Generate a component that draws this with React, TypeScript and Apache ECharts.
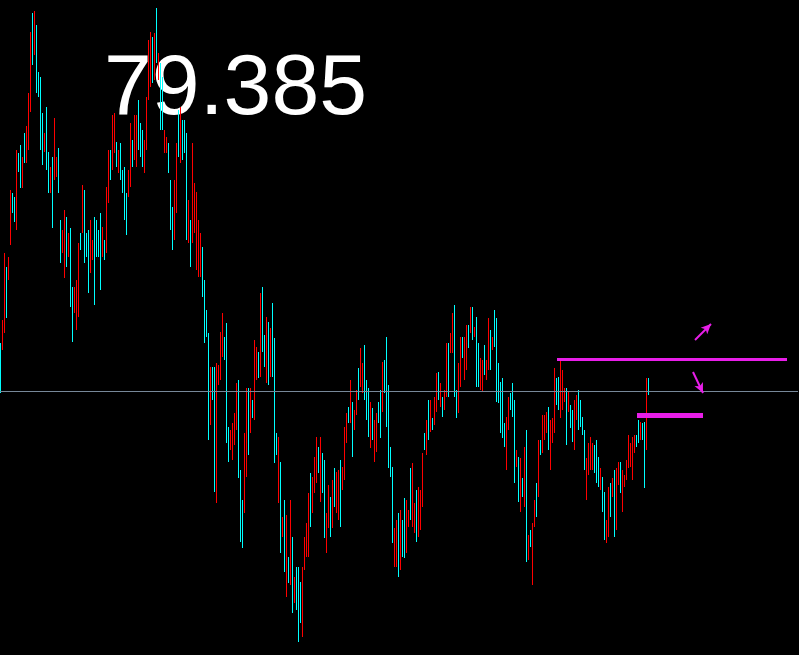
import React, { useEffect, useRef } from "react";
import * as echarts from "echarts";

// Bars (oldest -> newest), prices
const highs = [
  79.87, 80.10, 80.77, 80.63, 80.73, 81.40, 81.37, 81.33, 81.80, 81.77,
  81.85, 81.73, 81.97, 82.04, 82.37, 82.98, 83.17, 83.19, 83.05, 82.58,
  82.53, 82.17, 81.97, 82.23, 81.78, 81.63, 81.73, 82.12, 81.73, 81.82,
  81.10, 81.00, 81.20, 81.13, 80.97, 81.02, 80.43, 80.43, 80.50, 80.87,
  80.97, 81.45, 81.40, 80.97, 81.00, 81.10, 80.90, 81.13, 81.10, 81.00,
  81.17, 81.03, 80.90, 81.43, 81.80, 81.80, 82.15, 82.17, 81.88, 81.80,
  81.87, 81.60, 81.63, 81.37, 81.60, 82.07, 81.90, 82.15, 82.15, 82.30,
  82.07, 82.00, 81.90, 82.33, 82.90, 82.98, 82.93, 82.97, 83.22, 82.77,
  82.67, 82.53, 82.00, 81.93, 81.87, 81.50, 81.23, 81.50, 81.87, 82.20,
  82.23, 82.10, 82.10, 81.97, 81.30, 81.10, 81.87, 81.47, 81.38, 81.10,
  80.97, 80.83, 80.50, 80.20, 79.97, 79.63, 79.63, 79.63, 79.67, 79.65,
  79.98, 80.17, 79.93, 80.07, 79.03, 79.00, 79.07, 79.17, 79.47, 79.50,
  78.60, 78.30, 78.97, 79.42, 79.42, 79.42, 79.30, 79.90, 79.83, 79.78,
  80.37, 80.43, 79.95, 80.13, 80.08, 80.02, 80.27, 79.92, 78.97, 78.93,
  78.68, 78.13, 78.30, 78.15, 77.73, 78.30, 77.93, 77.53, 77.63, 77.63,
  77.48, 77.63, 77.93, 78.07, 78.37, 78.57, 78.53, 78.73, 78.93, 78.83,
  78.93, 78.77, 78.70, 78.17, 78.45, 78.33, 78.50, 78.62, 78.58, 78.60,
  78.70, 78.63, 79.03, 79.17, 79.23, 79.50, 79.28, 79.20, 79.40, 79.62,
  79.82, 79.67, 79.85, 79.50, 79.42, 79.28, 79.22, 79.10, 79.17, 79.28,
  79.40, 79.68, 79.70, 79.93, 79.45, 78.83, 78.63, 78.02, 78.10, 78.17,
  78.20, 78.10, 78.32, 78.30, 78.20, 78.62, 78.67, 78.27, 78.40, 78.43,
  78.40, 78.77, 78.97, 79.10, 79.30, 79.30, 79.12, 79.33, 79.57, 79.58,
  79.47, 79.33, 79.40, 79.87, 79.87, 79.97, 80.17, 80.25, 79.40, 79.67,
  79.93, 79.93, 79.93, 80.05, 80.05, 80.23, 80.23, 80.03, 80.13, 79.87,
  79.72, 79.70, 79.85, 79.70, 80.12, 80.00, 79.93, 80.20, 80.12, 79.67,
  79.48, 79.52, 79.07, 79.13, 79.33, 79.37, 79.47, 79.30, 78.80, 78.73,
  78.72, 78.52, 78.83, 79.00, 77.95, 78.00, 78.07, 78.30, 78.47, 78.90,
  78.90, 79.15, 79.15, 79.18, 79.23, 79.10, 79.12, 79.62, 79.52, 79.53,
  79.70, 79.60, 79.42, 79.42, 79.38, 79.25, 79.20, 79.30, 79.35, 79.40,
  79.30, 79.13, 79.00, 78.72, 78.87, 78.93, 78.87, 78.85, 78.90, 78.73,
  78.62, 78.53, 78.38, 78.10, 78.43, 78.47, 78.52, 78.60, 78.62, 78.68,
  78.68, 78.60, 78.55, 78.70, 78.95, 78.87, 78.93, 78.95, 78.95, 79.10,
  79.08, 79.07, 79.08, 79.52, 79.52,
];

const lows = [
  79.37, 79.80, 79.97, 80.12, 80.50, 80.85, 81.17, 81.08, 81.00, 81.58,
  81.42, 81.42, 81.67, 81.67, 81.80, 82.18, 82.65, 82.75, 82.37, 82.33,
  81.80, 81.65, 81.78, 81.60, 81.37, 81.37, 81.02, 81.50, 81.53, 81.37,
  80.67, 80.77, 80.52, 80.63, 80.73, 80.23, 79.88, 80.17, 80.00, 80.13,
  80.80, 80.97, 80.67, 80.73, 80.37, 80.57, 80.70, 80.25, 80.73, 80.73,
  80.40, 80.73, 80.70, 80.77, 81.27, 81.50, 81.60, 81.77, 81.63, 81.57,
  81.50, 81.37, 81.10, 80.95, 81.33, 81.43, 81.63, 81.70, 81.63, 81.80,
  81.73, 81.63, 81.57, 81.80, 82.30, 82.43, 82.47, 82.50, 82.67, 82.50,
  82.00, 82.00, 81.77, 81.77, 81.57, 81.00, 80.80, 80.90, 81.17, 81.73,
  81.67, 81.70, 81.77, 80.90, 80.87, 80.63, 80.87, 80.97, 80.60, 80.53,
  80.53, 80.33, 79.87, 79.93, 78.90, 79.05, 79.30, 78.38, 78.27, 79.45,
  79.50, 79.73, 79.70, 78.87, 78.68, 78.80, 78.70, 78.85, 79.00, 78.52,
  77.88, 77.82, 78.17, 78.53, 78.75, 78.97, 79.12, 79.10, 79.50, 79.52,
  79.53, 79.78, 79.63, 79.47, 79.45, 79.53, 79.53, 78.67, 78.75, 78.27,
  77.77, 77.93, 77.58, 77.33, 77.47, 77.45, 77.17, 77.27, 77.20, 76.88,
  77.07, 76.93, 77.60, 77.73, 77.73, 78.03, 78.17, 78.37, 78.47, 78.57,
  78.28, 78.37, 77.92, 77.77, 78.02, 77.93, 78.02, 78.23, 78.17, 78.10,
  78.03, 78.40, 78.50, 78.87, 79.07, 79.07, 78.73, 79.00, 79.15, 79.30,
  79.43, 79.37, 79.30, 79.10, 78.93, 78.82, 78.90, 78.68, 78.78, 79.07,
  78.92, 79.18, 79.37, 79.03, 78.62, 78.53, 77.87, 77.63, 77.63, 77.53,
  77.60, 77.73, 77.72, 77.77, 78.03, 78.10, 78.03, 77.97, 77.88, 77.93,
  78.00, 78.23, 78.80, 78.75, 78.90, 78.98, 79.00, 79.05, 79.18, 79.30,
  79.23, 79.13, 79.20, 79.33, 79.33, 79.77, 79.77, 79.33, 79.12, 79.17,
  79.43, 79.72, 79.50, 79.60, 79.82, 79.97, 79.90, 79.93, 79.43, 79.43,
  79.40, 79.38, 79.55, 79.50, 79.60, 79.60, 79.80, 79.83, 79.28, 79.27,
  78.97, 78.92, 78.83, 78.60, 79.00, 79.20, 79.13, 78.47, 78.63, 78.28,
  78.18, 78.33, 78.23, 77.68, 77.70, 77.83, 77.45, 78.03, 78.13, 78.33,
  78.75, 78.77, 78.90, 78.97, 78.80, 78.60, 78.87, 78.97, 79.25, 79.20,
  79.12, 79.20, 79.28, 78.85, 79.18, 79.02, 78.88, 78.80, 79.10, 79.00,
  79.03, 78.95, 78.60, 78.30, 78.55, 78.60, 78.60, 78.57, 78.47, 78.43,
  78.40, 78.18, 77.90, 77.87, 77.93, 78.13, 78.33, 77.93, 78.00, 78.45,
  78.37, 78.18, 78.43, 78.50, 78.62, 78.63, 78.50, 78.77, 78.83, 78.87,
  78.90, 78.90, 78.42, 78.80, 79.35,
];

const opens = [
  79.77, 79.86, 80.13, 80.53, 80.55, 80.96, 81.33, 81.28, 81.16, 81.73,
  81.76, 81.48, 81.91, 81.74, 81.91, 82.34, 83.07, 82.84, 82.91, 82.53,
  82.38, 82.07, 81.82, 82.10, 81.70, 81.42, 81.59, 81.62, 81.57, 81.73,
  81.01, 80.82, 80.66, 81.03, 80.78, 80.86, 80.32, 80.22, 80.10, 80.28,
  80.94, 81.07, 81.25, 80.92, 80.87, 80.68, 80.74, 80.95, 81.03, 80.95,
  81.02, 80.79, 80.86, 80.90, 81.38, 81.74, 81.71, 81.85, 81.83, 81.62,
  81.80, 81.55, 81.52, 81.29, 81.38, 81.56, 81.85, 81.79, 81.73, 82.20,
  82.00, 81.93, 81.64, 81.91, 82.42, 82.54, 82.84, 82.59, 83.11, 82.55,
  82.54, 82.42, 81.82, 81.80, 81.81, 81.40, 81.14, 81.02, 81.31, 82.11,
  81.78, 82.02, 82.03, 81.76, 80.96, 81.01, 81.07, 81.07, 80.76, 80.64,
  80.62, 80.73, 80.37, 80.15, 79.76, 79.17, 79.56, 79.38, 78.55, 79.49,
  79.60, 79.82, 79.88, 79.83, 78.96, 78.84, 78.77, 78.91, 79.09, 79.30,
  78.46, 78.20, 78.33, 78.71, 79.29, 79.06, 79.26, 79.26, 79.57, 79.73,
  79.70, 80.30, 79.89, 79.60, 79.95, 79.63, 80.12, 79.67, 78.93, 78.40,
  78.50, 77.97, 78.16, 77.49, 77.68, 77.62, 77.78, 77.32, 77.54, 77.48,
  77.40, 77.07, 77.67, 77.80, 77.86, 78.46, 78.24, 78.44, 78.56, 78.78,
  78.41, 78.69, 78.54, 77.85, 78.11, 78.25, 78.12, 78.54, 78.25, 78.20,
  78.57, 78.45, 78.61, 78.93, 79.20, 79.16, 79.17, 79.04, 79.20, 79.56,
  79.51, 79.43, 79.74, 79.42, 79.32, 78.91, 79.16, 78.76, 78.86, 79.24,
  79.30, 79.28, 79.63, 79.75, 79.28, 78.77, 78.48, 77.71, 77.72, 78.04,
  77.72, 78.03, 78.20, 77.88, 78.06, 78.52, 78.16, 78.03, 78.30, 78.03,
  78.08, 78.34, 78.94, 78.82, 79.22, 79.04, 79.10, 79.11, 79.26, 79.52,
  79.28, 79.29, 79.24, 79.44, 79.76, 79.81, 79.85, 80.07, 79.34, 79.27,
  79.53, 79.89, 79.59, 79.69, 80.00, 80.02, 80.16, 79.95, 79.99, 79.78,
  79.46, 79.44, 79.79, 79.54, 79.70, 79.92, 79.83, 80.13, 79.95, 79.59,
  79.38, 79.40, 79.02, 78.71, 79.07, 79.34, 79.40, 79.13, 78.66, 78.64,
  78.29, 78.48, 78.35, 78.74, 77.75, 77.97, 77.57, 78.08, 78.40, 78.44,
  78.87, 78.85, 78.95, 79.01, 79.14, 78.70, 78.92, 79.10, 79.47, 79.46,
  79.24, 79.28, 79.31, 79.31, 79.22, 79.20, 79.14, 78.90, 79.15, 79.32,
  79.25, 79.09, 78.92, 78.38, 78.61, 78.67, 78.65, 78.79, 78.81, 78.67,
  78.44, 78.46, 78.28, 77.92, 78.03, 78.40, 78.37, 78.47, 78.12, 78.50,
  78.62, 78.26, 78.45, 78.54, 78.69, 78.68, 78.59, 78.81, 78.93, 79.05,
  78.94, 79.04, 78.95, 78.94, 79.49,
];

const closes = [
  79.47, 80.04, 80.61, 80.22, 80.68, 81.29, 81.21, 81.13, 81.64, 81.62,
  81.51, 81.67, 81.73, 81.97, 82.26, 82.82, 82.75, 83.10, 82.51, 82.38,
  81.95, 81.75, 81.93, 81.73, 81.45, 81.58, 81.16, 82.00, 81.69, 81.46,
  80.76, 80.95, 81.06, 80.73, 80.92, 80.39, 79.99, 80.38, 80.40, 80.72,
  80.83, 81.35, 80.82, 80.78, 80.50, 80.99, 80.86, 80.43, 80.80, 80.78,
  80.55, 80.97, 80.74, 81.30, 81.69, 81.56, 82.04, 82.09, 81.68, 81.75,
  81.57, 81.42, 81.21, 81.03, 81.55, 81.94, 81.68, 82.06, 82.05, 81.90,
  81.80, 81.70, 81.83, 82.22, 82.78, 82.87, 82.56, 82.88, 82.78, 82.72,
  82.13, 82.11, 81.95, 81.90, 81.63, 81.10, 80.89, 81.38, 81.73, 81.82,
  82.12, 81.78, 81.84, 81.11, 81.21, 80.72, 81.67, 81.37, 81.22, 80.99,
  80.88, 80.43, 80.00, 79.98, 79.11, 79.51, 79.37, 78.63, 79.39, 79.61,
  79.92, 80.08, 79.75, 79.11, 78.75, 78.96, 79.00, 79.11, 79.38, 78.72,
  78.02, 77.92, 78.81, 79.24, 78.88, 79.33, 79.16, 79.74, 79.76, 79.57,
  80.20, 79.91, 79.69, 80.00, 79.58, 79.92, 79.68, 78.92, 78.79, 78.80,
  77.95, 78.09, 77.72, 77.99, 77.52, 78.13, 77.32, 77.48, 77.29, 77.03,
  77.15, 77.49, 77.86, 78.00, 78.24, 78.14, 78.46, 78.66, 78.84, 78.62,
  78.80, 78.45, 78.08, 78.09, 78.36, 78.01, 78.40, 78.31, 78.50, 78.50,
  78.16, 78.58, 78.92, 79.11, 79.10, 79.41, 78.84, 79.16, 79.35, 79.36,
  79.74, 79.61, 79.41, 79.18, 79.03, 79.19, 78.96, 79.02, 79.09, 79.11,
  79.02, 79.58, 79.44, 79.21, 78.79, 78.59, 78.02, 77.94, 78.01, 77.66,
  78.08, 77.80, 77.84, 78.19, 78.17, 78.20, 78.54, 78.21, 77.98, 78.33,
  78.32, 78.66, 78.83, 79.03, 78.98, 79.24, 79.02, 79.27, 79.49, 79.36,
  79.42, 79.17, 79.36, 79.76, 79.44, 79.93, 80.09, 79.51, 79.18, 79.57,
  79.83, 79.76, 79.84, 79.96, 79.87, 80.18, 79.97, 80.01, 79.57, 79.52,
  79.66, 79.64, 79.61, 79.66, 80.02, 79.68, 79.90, 79.90, 79.45, 79.35,
  79.07, 79.04, 78.88, 79.02, 79.26, 79.23, 79.20, 78.64, 78.77, 78.37,
  78.61, 78.37, 78.71, 77.94, 77.90, 77.86, 77.95, 78.25, 78.20, 78.79,
  78.78, 79.07, 79.10, 79.14, 78.89, 79.00, 79.07, 79.49, 79.30, 79.27,
  79.58, 79.52, 79.39, 78.96, 79.34, 79.07, 78.94, 79.20, 79.30, 79.08,
  79.08, 78.99, 78.68, 78.64, 78.81, 78.86, 78.82, 78.63, 78.56, 78.49,
  78.58, 78.25, 78.00, 78.05, 78.33, 78.20, 78.48, 78.06, 78.50, 78.63,
  78.43, 78.52, 78.53, 78.66, 78.88, 78.82, 78.84, 78.91, 78.85, 78.92,
  79.04, 78.93, 78.55, 79.38, 79.385,
];

const lastPrice = 79.385;
const priceLabel = "79.385";
const totalSlots = 399; // bar slots on the time axis (right part empty)
const yMin = 76.75;
const yMax = 83.3;

// drawn objects: [startBar, startPrice, endBar, endPrice]
const upperLevel = [278, 79.705, 393, 79.705];
const lowerLevel = [318, 79.15, 351, 79.15];
const arrowUp = [347, 79.9, 355, 80.06];
const arrowDown = [346, 79.58, 351, 79.37];

const slotLabels = Array.from({ length: totalSlots }, (_, i) => "b" + i);

export default function App() {
  const ref = useRef<HTMLDivElement>(null);
  useEffect(() => {
    document.body.style.margin = "0";
    document.body.style.background = "#000";
    const chart = echarts.init(ref.current!, null, { renderer: "svg" });
    const candles = opens.map((o, i) => [o, closes[i], lows[i], highs[i]]);
    const magenta = "#e81ee8";
    const seg = (s: number[], width: number, arrow: boolean) => [
      { coord: [s[0], s[1]], symbol: "none", lineStyle: { color: magenta, width, type: "solid" } },
      {
        coord: [s[2], s[3]],
        symbol: arrow ? "arrow" : "none",
        symbolSize: arrow ? [7, 10] : 0,
        itemStyle: { color: magenta },
      },
    ];
    chart.setOption({
      animation: false,
      backgroundColor: "#000000",
      grid: { left: 0, right: 1, top: 0, bottom: 0, containLabel: false },
      xAxis: {
        type: "category",
        data: slotLabels,
        show: false,
        boundaryGap: true,
      },
      yAxis: {
        type: "value",
        min: yMin,
        max: yMax,
        show: false,
        splitLine: { show: false },
      },
      graphic: {
        elements: [
          {
            type: "text",
            left: 104,
            top: 41,
            z: 0,
            silent: true,
            style: {
              text: priceLabel,
              fill: "#ffffff",
              font: "86px 'Liberation Sans', Arial, sans-serif",
            },
          },
        ],
      },
      series: [
        {
          type: "line",
          data: [],
          z: 1,
          silent: true,
          markLine: {
            silent: true,
            animation: false,
            symbol: ["none", "none"],
            label: { show: false },
            emphasis: { disabled: true },
            data: [
              { yAxis: lastPrice, lineStyle: { color: "#778899", width: 1, type: "solid" } },
              seg(upperLevel, 3, false),
              seg(lowerLevel, 5, false),
              seg(arrowUp, 2, true),
              seg(arrowDown, 2, true),
            ],
          },
        },
        {
          type: "candlestick",
          z: 3,
          silent: true,
          barWidth: 1,
          data: candles,
          itemStyle: {
            color: "#ff0000",
            color0: "#00ffff",
            borderColor: "#ff0000",
            borderColor0: "#00ffff",
            borderWidth: 1,
          },
        },
      ],
    });
    return () => chart.dispose();
  }, []);
  return (
    <div
      ref={ref}
      style={{ position: "absolute", left: 0, top: 0, width: 799, height: 655 }}
    />
  );
}
